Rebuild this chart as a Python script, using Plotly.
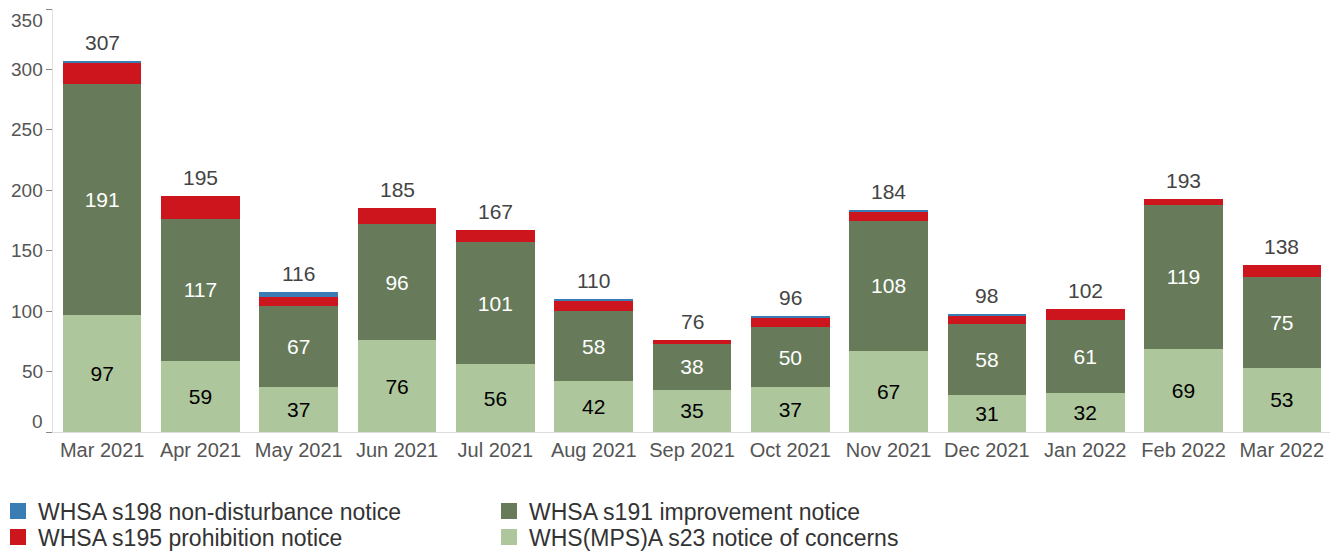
import plotly.graph_objects as go

months = ["Mar 2021", "Apr 2021", "May 2021", "Jun 2021", "Jul 2021", "Aug 2021", "Sep 2021",
          "Oct 2021", "Nov 2021", "Dec 2021", "Jan 2022", "Feb 2022", "Mar 2022"]
s23_concerns = [97, 59, 37, 76, 56, 42, 35, 37, 67, 31, 32, 69, 53]
s191_improvement = [191, 117, 67, 96, 101, 58, 38, 50, 108, 58, 61, 119, 75]
s195_prohibition = [17, 19, 8, 13, 10, 8, 3, 7, 7, 7, 9, 5, 10]
s198_nondisturbance = [2, 0, 4, 0, 0, 2, 0, 2, 2, 2, 0, 0, 0]
totals = [a + b + c + d for a, b, c, d in zip(s23_concerns, s191_improvement, s195_prohibition, s198_nondisturbance)]
y_ticks = [0, 50, 100, 150, 200, 250, 300, 350]

FONT = "Liberation Sans, Arial, sans-serif"
C_S23, C_S191, C_S195, C_S198 = "#adc69c", "#677b5a", "#cc151c", "#3a7db4"

# (name, values, colour, label colour, labelled, legend id, legend rank)
series = [
    ("WHS(MPS)A s23 notice of concerns", s23_concerns, C_S23, "#000000", True, "legend2", 2),
    ("WHSA s191 improvement notice", s191_improvement, C_S191, "#ffffff", True, "legend", 2),
    ("WHSA s195 prohibition notice", s195_prohibition, C_S195, None, False, "legend2", 1),
    ("WHSA s198 non-disturbance notice", s198_nondisturbance, C_S198, None, False, "legend", 1),
]

fig = go.Figure()
for name, vals, col, tcol, labelled, leg, rank in series:
    kw = {}
    if labelled:
        kw = dict(text=vals, textposition="inside", insidetextanchor="middle",
                  textfont=dict(color=tcol, size=21, family=FONT))
    fig.add_trace(go.Bar(x=months, y=vals, name=name, legendgroup=name, showlegend=False,
                         marker=dict(color=col, line=dict(width=0)), **kw))
    # legend entry with a larger square swatch
    fig.add_trace(go.Scatter(x=[None], y=[None], mode="markers", name=name, legendgroup=name,
                             legend=leg, legendrank=rank,
                             marker=dict(symbol="square", size=18, color=col),
                             hoverinfo="skip"))

annotations = []
for m, t in zip(months, totals):
    annotations.append(dict(x=m, y=t, xref="x", yref="y", text=str(t), showarrow=False,
                            yanchor="bottom", yshift=5,
                            font=dict(size=21, color="#444444", family=FONT)))
for v in y_ticks:
    shift = 11 if v == y_ticks[0] else (-11 if v == y_ticks[-1] else 0)
    annotations.append(dict(x=0, y=v, xref="paper", yref="y", text=str(v), showarrow=False,
                            xanchor="right", xshift=-8, yshift=shift,
                            font=dict(size=19, color="#555555", family=FONT)))

W, H = 1330, 544
ML, MR, MT, MB = 45, 7, 1, 120
PW, PH = W - ML - MR, H - MT - MB
leg_common = dict(orientation="h", xref="paper", yref="paper",
                  x=(-10 - 0) / PW - ML / PW, xanchor="left", yanchor="middle",
                  entrywidth=446, entrywidthmode="pixels", traceorder="normal",
                  font=dict(size=23, color="#333333", family=FONT), itemwidth=30,
                  tracegroupgap=0, itemsizing="trace", bgcolor="rgba(0,0,0,0)")

fig.update_layout(
    barmode="stack",
    bargap=0.2,
    width=W, height=H,
    margin=dict(l=ML, r=MR, t=MT, b=MB, autoexpand=False),
    paper_bgcolor="white", plot_bgcolor="white",
    font=dict(family=FONT, size=20, color="#444444"),
    legend=dict(y=((H - MB) - 503) / PH, **leg_common),
    legend2=dict(y=((H - MB) - 529) / PH, **leg_common),
    showlegend=True,
    annotations=annotations,
)
fig.update_xaxes(showline=True, linecolor="#dddddd", linewidth=1, ticks="", automargin=False,
                 tickfont=dict(size=20, color="#555555", family=FONT), showgrid=False)
fig.update_yaxes(range=[0, 350], tickvals=y_ticks, showticklabels=False, showgrid=False,
                 zeroline=False, automargin=False,
                 showline=True, linecolor="#e0e0e0", linewidth=1,
                 ticks="outside", ticklen=6, tickcolor="#888888")

fig.write_html("out.html")
